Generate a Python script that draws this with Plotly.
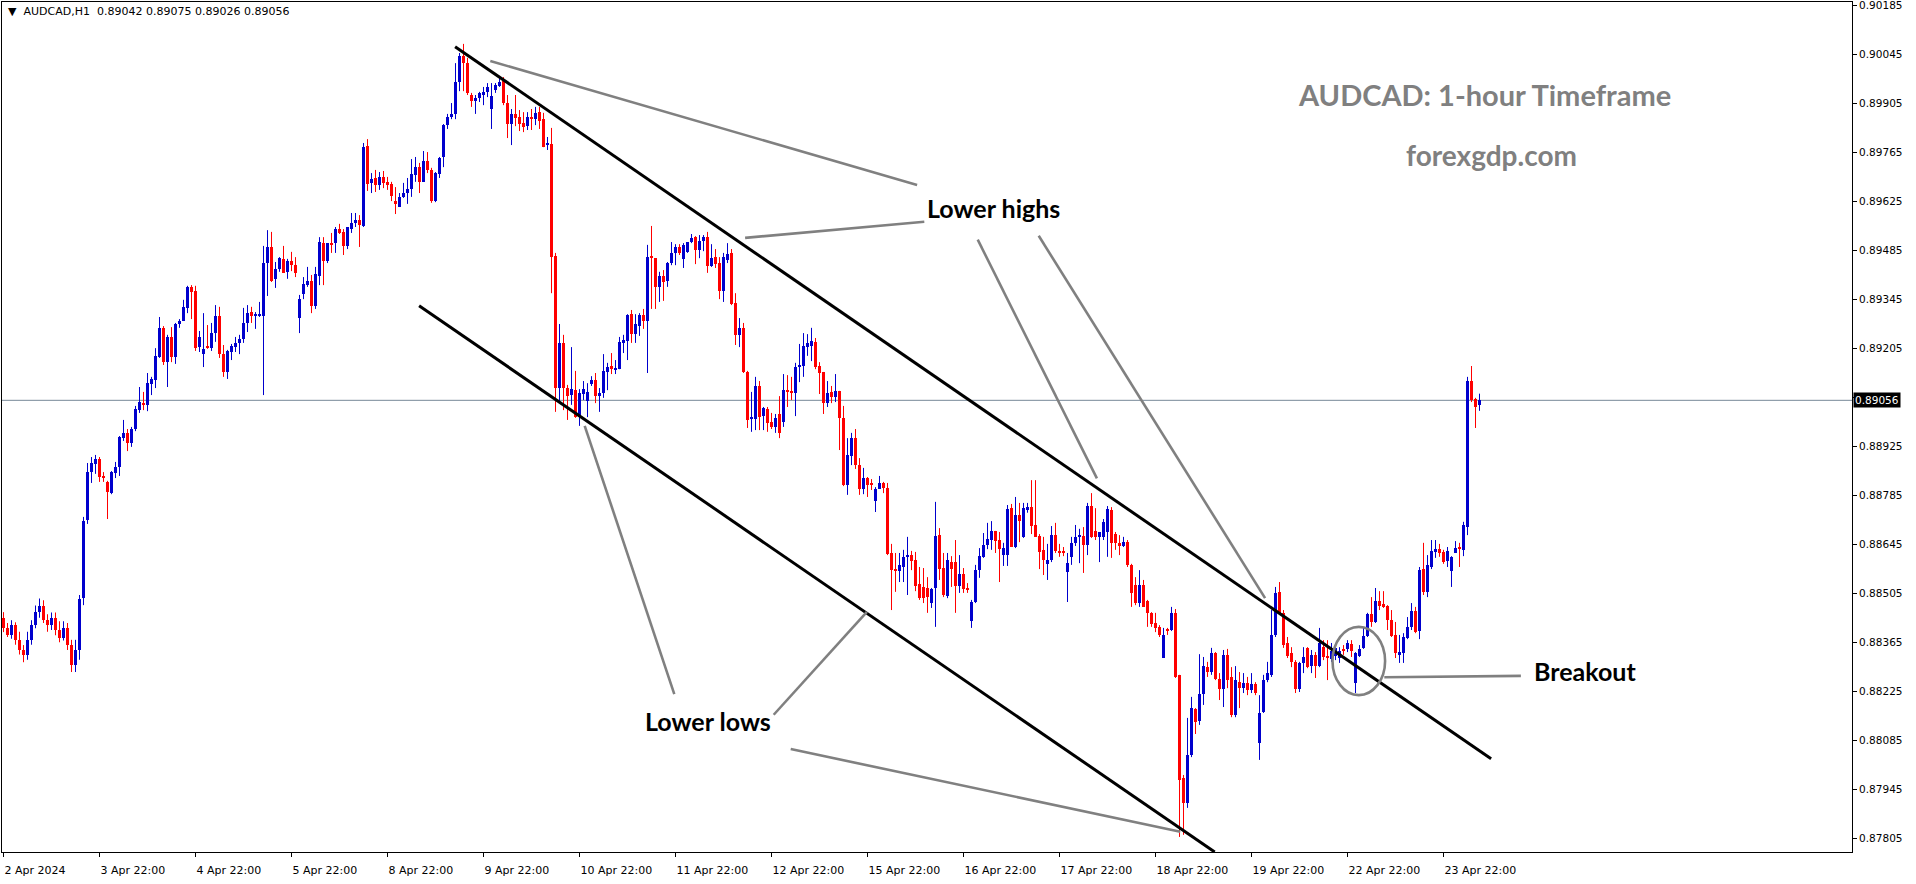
import plotly.graph_objects as go

# ---------------- data (AUDCAD H1, bar 0 = 2 Apr 2024 22:00) ----------------
opens = [
0.88434,0.88406,0.88386,0.88415,0.88372,0.88343,0.88329,0.88372,0.88415,0.88451,
0.88470,0.88428,0.88415,0.88435,0.88400,0.88378,0.88405,0.88358,0.88300,0.88343,
0.88491,0.88714,0.88851,0.88874,0.88888,0.88840,0.88823,0.88791,0.88848,0.88866,
0.88948,0.88963,0.88934,0.88974,0.89028,0.89048,0.89043,0.89103,0.89114,0.89180,
0.89263,0.89165,0.89237,0.89180,0.89274,0.89283,0.89320,0.89380,0.89368,0.89208,
0.89188,0.89211,0.89205,0.89248,0.89297,0.89188,0.89137,0.89194,0.89208,0.89220,
0.89231,0.89277,0.89308,0.89297,0.89297,0.89297,0.89448,0.89494,0.89403,0.89431,
0.89460,0.89423,0.89454,0.89442,0.89291,0.89360,0.89385,0.89397,0.89325,0.89411,
0.89505,0.89454,0.89505,0.89505,0.89545,0.89537,0.89497,0.89545,0.89562,0.89571,
0.89554,0.89782,0.89677,0.89691,0.89671,0.89694,0.89680,0.89674,0.89625,0.89608,
0.89637,0.89648,0.89660,0.89700,0.89722,0.89680,0.89739,0.89714,0.89625,0.89702,
0.89751,0.89842,0.89865,0.89874,0.89965,0.90039,0.90019,0.89928,0.89911,0.89919,
0.89928,0.89937,0.89888,0.89942,0.89954,0.89968,0.89905,0.89845,0.89874,0.89865,
0.89848,0.89839,0.89865,0.89859,0.89879,0.89859,0.89785,0.89788,0.89468,0.89091,
0.89220,0.89091,0.89071,0.89085,0.89008,0.89074,0.89054,0.89103,0.89114,0.89068,
0.89077,0.89137,0.89154,0.89145,0.89145,0.89220,0.89225,0.89302,0.89245,0.89268,
0.89300,0.89283,0.89468,0.89462,0.89380,0.89411,0.89397,0.89448,0.89477,0.89494,
0.89460,0.89480,0.89508,0.89522,0.89485,0.89511,0.89522,0.89440,0.89465,0.89448,
0.89368,0.89457,0.89477,0.89334,0.89243,0.89263,0.89137,0.89003,0.89003,0.89097,
0.89011,0.89031,0.88994,0.88980,0.89017,0.88994,0.89085,0.89083,0.89077,0.89151,
0.89154,0.89208,0.89211,0.89223,0.89154,0.89137,0.89048,0.89080,0.89065,0.89083,
0.89006,0.88814,0.88897,0.88948,0.88871,0.88803,0.88834,0.88820,0.88768,0.88803,
0.88820,0.88806,0.88620,0.88574,0.88569,0.88580,0.88609,0.88614,0.88600,0.88531,
0.88523,0.88520,0.88477,0.88520,0.88671,0.88577,0.88497,0.88594,0.88594,0.88526,
0.88560,0.88520,0.88426,0.88480,0.88571,0.88609,0.88643,0.88657,0.88683,0.88657,
0.88614,0.88614,0.88748,0.88637,0.88728,0.88666,0.88742,0.88751,0.88700,0.88669,
0.88629,0.88589,0.88600,0.88671,0.88626,0.88626,0.88566,0.88609,0.88649,0.88666,
0.88669,0.88643,0.88754,0.88683,0.88666,0.88666,0.88680,0.88743,0.88674,0.88649,
0.88640,0.88651,0.88586,0.88529,0.88477,0.88529,0.88483,0.88449,0.88420,0.88409,
0.88320,0.88403,0.88400,0.88449,0.88272,0.87977,0.87906,0.88043,0.88174,0.88140,
0.88217,0.88294,0.88280,0.88334,0.88260,0.88231,0.88329,0.88266,0.88157,0.88251,
0.88234,0.88249,0.88229,0.88246,0.88077,0.88166,0.88257,0.88272,0.88386,0.88509,
0.88449,0.88363,0.88334,0.88309,0.88231,0.88306,0.88349,0.88297,0.88329,0.88297,
0.88351,0.88326,0.88317,0.88326,0.88320,0.88346,0.88346,0.88360,0.88249,0.88326,
0.88349,0.88383,0.88446,0.88423,0.88483,0.88474,0.88469,0.88429,0.88386,0.88329,
0.88334,0.88377,0.88409,0.88454,0.88397,0.88574,0.88509,0.88580,0.88623,0.88631,
0.88623,0.88597,0.88569,0.88620,0.88637,0.88629,0.88694,0.89111,0.89060,0.89042,
]
highs = [
0.88451,0.88420,0.88428,0.88422,0.88395,0.88357,0.88395,0.88428,0.88470,0.88490,
0.88485,0.88445,0.88450,0.88450,0.88425,0.88425,0.88420,0.88372,0.88372,0.88500,
0.88723,0.88877,0.88894,0.88900,0.88894,0.88851,0.88826,0.88854,0.88880,0.88954,
0.89000,0.88974,0.88980,0.89040,0.89094,0.89080,0.89134,0.89123,0.89205,0.89294,
0.89268,0.89243,0.89265,0.89277,0.89288,0.89343,0.89383,0.89385,0.89383,0.89254,
0.89305,0.89271,0.89277,0.89328,0.89323,0.89214,0.89200,0.89217,0.89237,0.89243,
0.89320,0.89328,0.89323,0.89308,0.89337,0.89497,0.89542,0.89537,0.89451,0.89465,
0.89497,0.89460,0.89480,0.89465,0.89357,0.89408,0.89437,0.89414,0.89437,0.89522,
0.89522,0.89505,0.89534,0.89551,0.89560,0.89545,0.89551,0.89591,0.89591,0.89585,
0.89791,0.89802,0.89705,0.89714,0.89708,0.89711,0.89694,0.89680,0.89665,0.89648,
0.89677,0.89691,0.89745,0.89751,0.89734,0.89768,0.89765,0.89720,0.89708,0.89751,
0.89845,0.89874,0.89905,0.90019,0.90048,0.90074,0.90034,0.89934,0.89928,0.89937,
0.89951,0.89962,0.89962,0.89962,0.89979,0.89979,0.89928,0.89888,0.89928,0.89885,
0.89879,0.89879,0.89888,0.89894,0.89894,0.89877,0.89808,0.89834,0.89477,0.89274,
0.89243,0.89100,0.89208,0.89140,0.89088,0.89111,0.89105,0.89125,0.89134,0.89091,
0.89188,0.89163,0.89191,0.89171,0.89237,0.89243,0.89302,0.89314,0.89302,0.89305,
0.89317,0.89500,0.89554,0.89462,0.89423,0.89428,0.89451,0.89508,0.89502,0.89502,
0.89505,0.89508,0.89531,0.89525,0.89528,0.89528,0.89537,0.89502,0.89488,0.89465,
0.89477,0.89505,0.89488,0.89362,0.89291,0.89277,0.89140,0.89080,0.89123,0.89111,
0.89037,0.89037,0.89020,0.89017,0.89068,0.89131,0.89128,0.89123,0.89163,0.89217,
0.89248,0.89245,0.89263,0.89234,0.89165,0.89137,0.89111,0.89097,0.89131,0.89083,
0.89040,0.88948,0.88963,0.88974,0.88891,0.88863,0.88837,0.88831,0.88808,0.88840,
0.88823,0.88820,0.88646,0.88620,0.88620,0.88629,0.88666,0.88626,0.88623,0.88580,
0.88577,0.88551,0.88520,0.88766,0.88691,0.88620,0.88620,0.88611,0.88657,0.88614,
0.88577,0.88534,0.88486,0.88586,0.88634,0.88677,0.88706,0.88711,0.88683,0.88680,
0.88649,0.88757,0.88760,0.88780,0.88763,0.88763,0.88763,0.88828,0.88828,0.88674,
0.88666,0.88646,0.88697,0.88706,0.88646,0.88637,0.88620,0.88666,0.88700,0.88689,
0.88694,0.88763,0.88791,0.88748,0.88680,0.88717,0.88754,0.88751,0.88680,0.88671,
0.88666,0.88657,0.88589,0.88551,0.88571,0.88543,0.88486,0.88451,0.88449,0.88414,
0.88406,0.88406,0.88466,0.88460,0.88272,0.87986,0.88149,0.88209,0.88177,0.88331,
0.88323,0.88309,0.88349,0.88337,0.88277,0.88343,0.88346,0.88294,0.88297,0.88280,
0.88277,0.88266,0.88277,0.88251,0.88214,0.88272,0.88309,0.88457,0.88523,0.88537,
0.88457,0.88380,0.88351,0.88314,0.88309,0.88351,0.88351,0.88343,0.88337,0.88406,
0.88371,0.88371,0.88363,0.88363,0.88351,0.88357,0.88371,0.88371,0.88337,0.88357,
0.88406,0.88449,0.88494,0.88520,0.88511,0.88511,0.88471,0.88457,0.88423,0.88386,
0.88391,0.88437,0.88477,0.88466,0.88580,0.88649,0.88614,0.88657,0.88657,0.88646,
0.88629,0.88637,0.88611,0.88654,0.88649,0.88709,0.89123,0.89154,0.89063,0.89075,
]
lows = [
0.88394,0.88380,0.88375,0.88358,0.88330,0.88308,0.88315,0.88358,0.88405,0.88435,
0.88420,0.88395,0.88400,0.88385,0.88365,0.88370,0.88343,0.88280,0.88280,0.88315,
0.88471,0.88703,0.88820,0.88846,0.88823,0.88823,0.88717,0.88788,0.88834,0.88840,
0.88940,0.88911,0.88923,0.88968,0.89020,0.89028,0.89025,0.89071,0.89091,0.89177,
0.89157,0.89094,0.89165,0.89160,0.89263,0.89283,0.89305,0.89288,0.89197,0.89194,
0.89151,0.89203,0.89197,0.89223,0.89177,0.89123,0.89117,0.89171,0.89194,0.89188,
0.89220,0.89251,0.89277,0.89260,0.89294,0.89071,0.89354,0.89394,0.89377,0.89423,
0.89420,0.89403,0.89425,0.89408,0.89248,0.89345,0.89380,0.89305,0.89317,0.89385,
0.89385,0.89448,0.89477,0.89477,0.89531,0.89471,0.89488,0.89534,0.89551,0.89494,
0.89551,0.89654,0.89648,0.89651,0.89657,0.89662,0.89657,0.89625,0.89588,0.89608,
0.89634,0.89617,0.89637,0.89680,0.89648,0.89680,0.89705,0.89620,0.89622,0.89691,
0.89722,0.89831,0.89859,0.89859,0.89939,0.89939,0.89928,0.89894,0.89874,0.89908,
0.89899,0.89922,0.89831,0.89934,0.89951,0.89899,0.89805,0.89785,0.89839,0.89825,
0.89822,0.89828,0.89828,0.89842,0.89831,0.89779,0.89771,0.89362,0.89023,0.89048,
0.89028,0.89000,0.89043,0.89006,0.88983,0.89057,0.89008,0.89097,0.89048,0.89023,
0.89063,0.89085,0.89131,0.89131,0.89145,0.89191,0.89171,0.89220,0.89220,0.89240,
0.89260,0.89134,0.89317,0.89317,0.89337,0.89340,0.89380,0.89442,0.89442,0.89471,
0.89434,0.89477,0.89505,0.89445,0.89462,0.89482,0.89420,0.89437,0.89434,0.89345,
0.89337,0.89448,0.89328,0.89214,0.89208,0.89134,0.88977,0.88966,0.88971,0.88971,
0.88971,0.88966,0.88974,0.88963,0.88948,0.88980,0.89037,0.89057,0.89011,0.89108,
0.89123,0.89183,0.89168,0.89145,0.89074,0.89017,0.89037,0.89048,0.89051,0.88914,
0.88811,0.88786,0.88871,0.88860,0.88786,0.88788,0.88780,0.88800,0.88737,0.88803,
0.88791,0.88614,0.88457,0.88509,0.88537,0.88537,0.88500,0.88571,0.88511,0.88486,
0.88477,0.88449,0.88463,0.88409,0.88543,0.88494,0.88491,0.88523,0.88449,0.88506,
0.88506,0.88506,0.88406,0.88477,0.88549,0.88606,0.88631,0.88629,0.88620,0.88537,
0.88583,0.88583,0.88637,0.88634,0.88651,0.88663,0.88735,0.88674,0.88666,0.88574,
0.88557,0.88543,0.88594,0.88620,0.88609,0.88611,0.88480,0.88586,0.88640,0.88591,
0.88563,0.88614,0.88663,0.88657,0.88594,0.88657,0.88609,0.88606,0.88629,0.88614,
0.88637,0.88580,0.88466,0.88471,0.88466,0.88466,0.88409,0.88409,0.88394,0.88380,
0.88320,0.88386,0.88397,0.88263,0.87809,0.87815,0.87892,0.88037,0.88103,0.88129,
0.88186,0.88266,0.88272,0.88257,0.88200,0.88180,0.88234,0.88151,0.88151,0.88177,
0.88220,0.88214,0.88220,0.88214,0.88029,0.88163,0.88251,0.88266,0.88380,0.88443,
0.88349,0.88320,0.88294,0.88220,0.88223,0.88277,0.88291,0.88277,0.88263,0.88294,
0.88314,0.88257,0.88309,0.88314,0.88306,0.88329,0.88337,0.88323,0.88220,0.88323,
0.88346,0.88380,0.88409,0.88420,0.88457,0.88463,0.88400,0.88380,0.88320,0.88306,
0.88306,0.88374,0.88400,0.88391,0.88374,0.88500,0.88494,0.88574,0.88606,0.88609,
0.88589,0.88580,0.88523,0.88620,0.88580,0.88611,0.88671,0.89051,0.88977,0.89026,
]
closes = [
0.88406,0.88386,0.88415,0.88372,0.88343,0.88329,0.88372,0.88415,0.88451,0.88470,
0.88428,0.88415,0.88435,0.88400,0.88378,0.88405,0.88358,0.88300,0.88343,0.88490,
0.88711,0.88851,0.88877,0.88888,0.88837,0.88834,0.88794,0.88851,0.88866,0.88951,
0.88963,0.88934,0.88974,0.89031,0.89051,0.89043,0.89105,0.89117,0.89183,0.89263,
0.89165,0.89237,0.89180,0.89274,0.89283,0.89323,0.89380,0.89365,0.89205,0.89237,
0.89203,0.89205,0.89248,0.89297,0.89188,0.89137,0.89197,0.89211,0.89220,0.89231,
0.89277,0.89305,0.89297,0.89300,0.89300,0.89448,0.89494,0.89397,0.89431,0.89462,
0.89420,0.89454,0.89442,0.89420,0.89345,0.89388,0.89397,0.89325,0.89417,0.89508,
0.89454,0.89505,0.89500,0.89545,0.89534,0.89497,0.89551,0.89562,0.89571,0.89557,
0.89779,0.89674,0.89688,0.89671,0.89694,0.89677,0.89671,0.89640,0.89617,0.89637,
0.89648,0.89660,0.89702,0.89722,0.89680,0.89739,0.89714,0.89625,0.89705,0.89748,
0.89842,0.89865,0.89874,0.89965,0.90039,0.90019,0.89934,0.89911,0.89919,0.89934,
0.89937,0.89951,0.89925,0.89957,0.89965,0.89905,0.89845,0.89874,0.89862,0.89845,
0.89837,0.89865,0.89859,0.89877,0.89854,0.89779,0.89791,0.89465,0.89091,0.89220,
0.89091,0.89068,0.89088,0.89008,0.89077,0.89088,0.89080,0.89114,0.89068,0.89077,
0.89140,0.89151,0.89145,0.89148,0.89223,0.89228,0.89300,0.89245,0.89274,0.89300,
0.89283,0.89465,0.89462,0.89380,0.89411,0.89394,0.89448,0.89477,0.89494,0.89477,
0.89500,0.89508,0.89520,0.89485,0.89511,0.89522,0.89440,0.89462,0.89445,0.89368,
0.89465,0.89474,0.89331,0.89243,0.89263,0.89137,0.89000,0.89008,0.89097,0.89008,
0.89034,0.88991,0.88980,0.89006,0.88963,0.89085,0.89080,0.89077,0.89151,0.89157,
0.89211,0.89220,0.89225,0.89151,0.89134,0.89048,0.89077,0.89065,0.89083,0.89006,
0.88814,0.88900,0.88948,0.88871,0.88803,0.88834,0.88814,0.88814,0.88803,0.88820,
0.88806,0.88617,0.88571,0.88569,0.88586,0.88609,0.88614,0.88597,0.88526,0.88491,
0.88491,0.88494,0.88517,0.88669,0.88574,0.88500,0.88600,0.88574,0.88526,0.88560,
0.88517,0.88514,0.88480,0.88571,0.88611,0.88643,0.88660,0.88683,0.88654,0.88631,
0.88634,0.88746,0.88637,0.88728,0.88711,0.88748,0.88751,0.88697,0.88666,0.88623,
0.88600,0.88600,0.88671,0.88626,0.88620,0.88620,0.88591,0.88649,0.88666,0.88669,
0.88643,0.88754,0.88666,0.88666,0.88680,0.88709,0.88746,0.88649,0.88649,0.88640,
0.88651,0.88586,0.88506,0.88477,0.88529,0.88466,0.88449,0.88417,0.88406,0.88386,
0.88386,0.88397,0.88449,0.88266,0.87972,0.87906,0.88043,0.88177,0.88137,0.88217,
0.88297,0.88280,0.88334,0.88260,0.88231,0.88329,0.88257,0.88157,0.88257,0.88234,
0.88249,0.88229,0.88246,0.88220,0.88163,0.88257,0.88277,0.88386,0.88506,0.88449,
0.88357,0.88326,0.88309,0.88231,0.88306,0.88323,0.88294,0.88329,0.88297,0.88363,
0.88323,0.88320,0.88340,0.88349,0.88340,0.88340,0.88363,0.88340,0.88334,0.88346,
0.88383,0.88446,0.88423,0.88483,0.88469,0.88466,0.88429,0.88383,0.88334,0.88337,
0.88380,0.88409,0.88454,0.88394,0.88571,0.88509,0.88586,0.88626,0.88631,0.88620,
0.88594,0.88626,0.88609,0.88634,0.88631,0.88700,0.89111,0.89057,0.89037,0.89056,
]
assert len(opens) == len(highs) == len(lows) == len(closes) == 370

# time axis: bar index of each label
tick_bars = [0, 24, 48, 72, 96, 120, 144, 168, 192, 216, 240, 264, 288, 312, 336, 360]
tick_labels = ["2 Apr 2024", "3 Apr 22:00", "4 Apr 22:00", "5 Apr 22:00", "8 Apr 22:00",
               "9 Apr 22:00", "10 Apr 22:00", "11 Apr 22:00", "12 Apr 22:00", "15 Apr 22:00",
               "16 Apr 22:00", "17 Apr 22:00", "18 Apr 22:00", "19 Apr 22:00", "22 Apr 22:00",
               "23 Apr 22:00"]
price_ticks = [0.90185, 0.90045, 0.89905, 0.89765, 0.89625, 0.89485, 0.89345, 0.89205, 0.89065,
               0.88925, 0.88785, 0.88645, 0.88505, 0.88365, 0.88225, 0.88085, 0.87945, 0.87805]

symbol = "AUDCAD,H1"
last_price = closes[-1]

# drawings (bar index, price)
channel_upper = ([112.9, 371.9], [0.90066, 0.88032])
channel_lower = ([103.9, 302.8], [0.89326, 0.87766])
pointer_lines = [
    ([121.7, 228.4], [0.90025, 0.89671]),
    ([185.4, 230.2], [0.89520, 0.89566]),
    ([243.55, 273.35], [0.89515, 0.88833]),
    ([258.8, 315.4], [0.89526, 0.88491]),
    ([145.3, 167.7], [0.88983, 0.88217]),
    ([192.55, 215.85], [0.88158, 0.88452]),
    ([196.8, 294.2], [0.88060, 0.87824]),
    ([345.2, 379.35], [0.88265, 0.88269]),
]
breakout_ellipse = ([332.25, 345.4], [0.88214, 0.88409])

X_RANGE = [-0.375, 462.125]
Y_RANGE = [0.87766, 0.901936]
BLUE = "#0000cd"
RED = "#ff0000"
GRAY = "#808080"

fig = go.Figure()

idx = list(range(len(opens)))
# wicks
for want_up, col in ((True, BLUE), (False, RED)):
    wx, wy = [], []
    for i, o, h, l, c in zip(idx, opens, highs, lows, closes):
        if (c >= o) == want_up:
            wx += [i, i, None]
            wy += [l, h, None]
    fig.add_trace(go.Scatter(x=wx, y=wy, mode="lines", line=dict(color=col, width=1),
                             hoverinfo="skip", showlegend=False))

# bodies
base = [min(o, c) for o, c in zip(opens, closes)]
height = [max(abs(c - o), 0.00003) for o, c in zip(opens, closes)]
colors = [BLUE if c >= o else RED for o, c in zip(opens, closes)]
fig.add_trace(go.Bar(x=idx, y=height, base=base, width=0.75,
                     marker=dict(color=colors, line=dict(width=0)),
                     hoverinfo="skip", showlegend=False))

shapes = []
# current price line
shapes.append(dict(type="line", xref="paper", x0=0, x1=1, yref="y", y0=last_price, y1=last_price,
                   line=dict(color="#778899", width=1), layer="below"))
for (xs, ys) in (channel_upper, channel_lower):
    shapes.append(dict(type="line", xref="x", yref="y", x0=xs[0], x1=xs[1], y0=ys[0], y1=ys[1],
                       line=dict(color="black", width=3)))
for (xs, ys) in pointer_lines:
    shapes.append(dict(type="line", xref="x", yref="y", x0=xs[0], x1=xs[1], y0=ys[0], y1=ys[1],
                       line=dict(color=GRAY, width=2.6)))
shapes.append(dict(type="circle", xref="x", yref="y",
                   x0=breakout_ellipse[0][0], x1=breakout_ellipse[0][1],
                   y0=breakout_ellipse[1][0], y1=breakout_ellipse[1][1],
                   line=dict(color=GRAY, width=2.6)))

def px_x(px):
    return (px - 2) / 1850.0

def px_y(py):
    return 1 - (py - 2) / 850.0

annotations = [
    dict(text="<b>AUDCAD: 1-hour Timeframe</b>", x=px_x(1484), y=px_y(94), xanchor="center",
         yanchor="middle", font=dict(family="Lato", size=29, color=GRAY)),
    dict(text="<b>forexgdp.com</b>", x=px_x(1491.5), y=px_y(155), xanchor="center",
         yanchor="middle", font=dict(family="Lato", size=28, color=GRAY)),
    dict(text="<b>Lower highs</b>", x=px_x(925), y=px_y(208), xanchor="left", yanchor="middle",
         font=dict(family="Lato", size=25, color="black")),
    dict(text="<b>Lower lows</b>", x=px_x(643), y=px_y(721), xanchor="left", yanchor="middle",
         font=dict(family="Lato", size=25, color="black")),
    dict(text="<b>Breakout</b>", x=px_x(1532), y=px_y(671), xanchor="left", yanchor="middle",
         font=dict(family="Lato", size=25, color="black")),
    dict(text="\u25bc\u00a0\u00a0" + symbol + "\u00a0\u00a0" + " ".join(
        "%.5f" % v for v in (opens[-1], highs[-1], lows[-1], closes[-1])),
         x=px_x(6), y=px_y(12), xanchor="left", yanchor="middle",
         font=dict(family="DejaVu Sans", size=11, color="black")),
    dict(text="%.5f" % last_price, xref="paper", x=1.0, yref="y", y=last_price,
         xanchor="left", yanchor="middle", xshift=1, showarrow=False, bgcolor="black",
         borderpad=1, font=dict(family="DejaVu Sans", size=10.5, color="white")),
]
for a in annotations:
    a.setdefault("xref", "paper")
    a.setdefault("yref", "paper")
    a["showarrow"] = False

price_text = ["" if abs(p - last_price) < 0.0004 else "%.5f" % p for p in price_ticks]

fig.update_layout(
    width=1916, height=884,
    margin=dict(l=2, r=64, t=2, b=32, autoexpand=False),
    paper_bgcolor="white", plot_bgcolor="white",
    showlegend=False, barmode="overlay", bargap=0,
    shapes=shapes, annotations=annotations,
    hovermode=False,
)
fig.update_xaxes(range=X_RANGE, tickmode="array", tickvals=tick_bars, ticktext=tick_labels,
                 ticks="outside", ticklen=4, tickcolor="black", tickwidth=1,
                 showline=True, linecolor="black", linewidth=1, mirror=True,
                 showgrid=False, zeroline=False, ticklabelposition="outside right",
                 ticklabelstandoff=8, ticklabeloverflow="allow",
                 tickfont=dict(family="DejaVu Sans", size=11, color="black"))
fig.update_yaxes(range=Y_RANGE, side="right", tickmode="array", tickvals=price_ticks,
                 ticktext=price_text, ticks="outside", ticklen=4, tickcolor="black", tickwidth=1,
                 showline=True, linecolor="black", linewidth=1, mirror=True,
                 showgrid=False, zeroline=False, ticklabeloverflow="allow",
                 tickfont=dict(family="DejaVu Sans", size=10.5, color="black"))

fig.write_html("out.html", config={"displayModeBar": False},
               post_script="document.body.style.margin='0';document.body.style.overflow='hidden';")
